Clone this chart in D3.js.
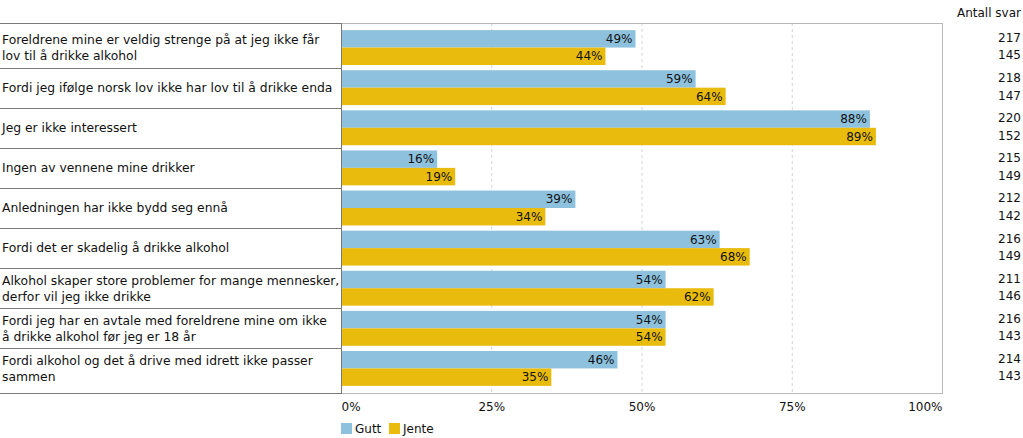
<!DOCTYPE html>
<html>
<head>
<meta charset="utf-8">
<script src="https://cdn.jsdelivr.net/npm/d3@7"></script>
<style>
  body { margin: 0; background: #fff; }
  text { font-family: "DejaVu Sans", Verdana, sans-serif; font-size: 12px; fill: #111; }
  .cat text, text.cat { font-size: 12.35px; }
</style>
</head>
<body>
<script>
// data
var categories = [
  "Foreldrene mine er veldig strenge på at jeg ikke får\nlov til å drikke alkohol",
  "Fordi jeg ifølge norsk lov ikke har lov til å drikke enda",
  "Jeg er ikke interessert",
  "Ingen av vennene mine drikker",
  "Anledningen har ikke bydd seg ennå",
  "Fordi det er skadelig å drikke alkohol",
  "Alkohol skaper store problemer for mange mennesker,\nderfor vil jeg ikke drikke",
  "Fordi jeg har en avtale med foreldrene mine om ikke\nå drikke alkohol før jeg er 18 år",
  "Fordi alkohol og det å drive med idrett ikke passer\nsammen"
];
var series = ["Gutt", "Jente"];
var gutt = [49, 59, 88, 16, 39, 63, 54, 54, 46];
var jente = [44, 64, 89, 19, 34, 68, 62, 54, 35];
var guttN = [217, 218, 220, 215, 212, 216, 211, 216, 214];
var jenteN = [145, 147, 152, 149, 142, 149, 146, 143, 143];
var xTicks = [0, 25, 50, 75, 100];

var colors = { "Gutt": "#8dc1de", "Jente": "#e9bb0c" };

//setup
var width = 1023, height = 438;
var plot = { left: 341, right: 942, top: 23, bottom: 393 };

var svg = d3.select("body")
    .append("svg")
    .attr("width", width)
    .attr("height", height);

var x = d3.scaleLinear()
    .domain([0, 100])
    .range([plot.left, plot.right]);

var y = d3.scaleBand()
    .domain(d3.range(categories.length))
    .range([plot.top + 4.5, plot.bottom - 4.5]);

var ySub = d3.scaleBand()
    .domain(series)
    .range([0, y.bandwidth()])
    .paddingOuter(0.15);

// gridlines
svg.append("g")
    .selectAll("line")
    .data(xTicks.slice(1, -1))
    .join("line")
    .attr("x1", function (d) { return x(d) + 0.5; })
    .attr("x2", function (d) { return x(d) + 0.5; })
    .attr("y1", plot.top)
    .attr("y2", plot.bottom)
    .attr("stroke", "#d4d4d4")
    .attr("stroke-dasharray", "3,3");

// plot border
svg.append("rect")
    .attr("x", plot.left + 0.5)
    .attr("y", plot.top + 0.5)
    .attr("width", plot.right - plot.left)
    .attr("height", plot.bottom - plot.top)
    .attr("fill", "none")
    .attr("stroke", "#b8b8b8");

// category label boxes
var seps = [plot.top].concat(d3.range(1, categories.length).map(function (i) { return y(i); })).concat([plot.bottom]);
svg.append("g")
    .selectAll("line")
    .data(seps)
    .join("line")
    .attr("x1", 0)
    .attr("x2", plot.left)
    .attr("y1", function (d) { return Math.round(d) + 0.5; })
    .attr("y2", function (d) { return Math.round(d) + 0.5; })
    .attr("stroke", "#7a7a7a");
svg.append("line")
    .attr("x1", plot.left + 0.5).attr("x2", plot.left + 0.5)
    .attr("y1", plot.top).attr("y2", plot.bottom + 1)
    .attr("stroke", "#7a7a7a");

// labels
var lineH = 16;
svg.append("g")
    .attr("class", "cat")
    .selectAll("text")
    .data(categories)
    .join("text")
    .attr("x", 2)
    .attr("y", function (d, i) { return y(i) + y.bandwidth() / 2; })
    .each(function (d) {
        var lines = d.split("\n");
        var t = d3.select(this);
        var y0 = +t.attr("y") - (lines.length - 1) * lineH / 2;
        lines.forEach(function (l, k) {
            t.append("tspan")
                .attr("x", 2)
                .attr("y", y0 + k * lineH)
                .attr("dy", "0.35em")
                .text(l);
        });
    });

// bars
var rows = categories.map(function (c, i) {
    return [
        { i: i, s: "Gutt", v: gutt[i], n: guttN[i] },
        { i: i, s: "Jente", v: jente[i], n: jenteN[i] }
    ];
});
var flat = d3.merge(rows);

svg.append("g")
    .selectAll("rect")
    .data(flat)
    .join("rect")
    .attr("x", x(0) + 1)
    .attr("y", function (d) { return y(d.i) + ySub(d.s); })
    .attr("width", function (d) { return x(d.v) - x(0) - 1; })
    .attr("height", ySub.bandwidth())
    .attr("fill", function (d) { return colors[d.s]; });

// value labels
svg.append("g")
    .selectAll("text")
    .data(flat)
    .join("text")
    .attr("x", function (d) { return x(d.v) - 3; })
    .attr("y", function (d) { return y(d.i) + ySub(d.s) + ySub.bandwidth() / 2; })
    .attr("dy", "0.35em")
    .attr("text-anchor", "end")
    .text(function (d) { return d.v + "%"; });

// counts
svg.append("text")
    .attr("x", 1021)
    .attr("y", 13)
    .attr("dy", "0.35em")
    .attr("text-anchor", "end")
    .text("Antall svar");
svg.append("g")
    .selectAll("text")
    .data(flat)
    .join("text")
    .attr("x", 1021)
    .attr("y", function (d) { return y(d.i) + ySub(d.s) + ySub.bandwidth() / 2 - 1; })
    .attr("dy", "0.35em")
    .attr("text-anchor", "end")
    .text(function (d) { return d.n; });

// x axis
var xAxis = svg.append("g")
    .attr("transform", "translate(0," + 401 + ")")
    .call(d3.axisBottom(x).tickValues(xTicks).tickSize(0).tickFormat(function (d) { return d + "%"; }));
xAxis.select(".domain").remove();
xAxis.selectAll("text")
    .attr("font-family", null)
    .attr("font-size", null)
    .attr("dy", "0.35em")
    .attr("y", 6)
    .attr("text-anchor", function (d, i) { return i == 0 ? "start" : (i == xTicks.length - 1 ? "end" : "middle"); });

// legend
var legend = svg.append("g")
    .attr("transform", "translate(" + plot.left + ",422)");
var lx = [0, 48];
series.forEach(function (s, i) {
    legend.append("rect")
        .attr("x", lx[i])
        .attr("y", 1)
        .attr("width", 11)
        .attr("height", 11)
        .attr("fill", colors[s]);
    legend.append("text")
        .attr("x", lx[i] + 14)
        .attr("y", 6.5)
        .attr("dy", "0.35em")
        .text(s);
});
</script>
</body>
</html>
